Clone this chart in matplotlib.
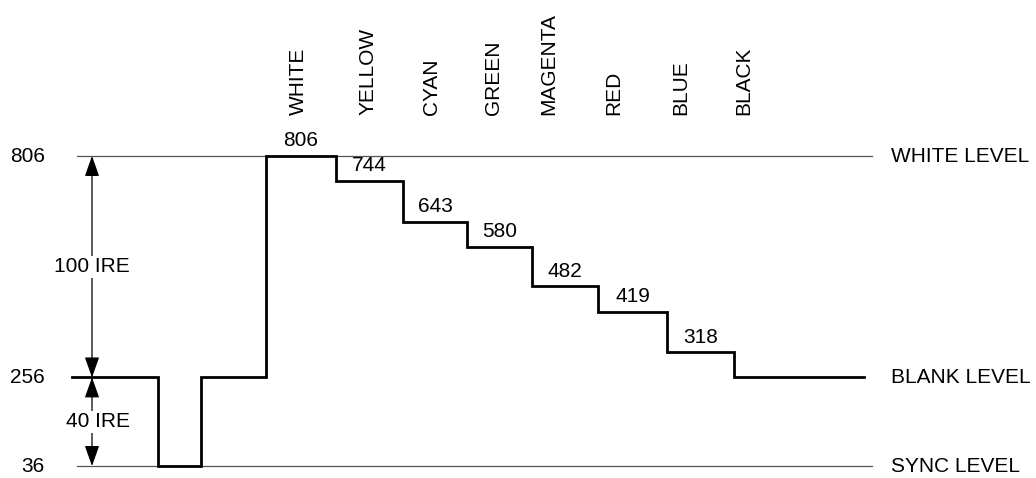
import matplotlib.pyplot as plt

plt.rcParams['font.family'] = ['Liberation Sans', 'DejaVu Sans']

# step edges (time, arbitrary units) and the level held between each pair
edges = [72, 158, 201, 266, 336, 403, 467, 532, 598, 667, 734, 864]
levels = [256, 36, 256, 806, 744, 643, 580, 482, 419, 318, 256]

bar_names = ['WHITE', 'YELLOW', 'CYAN', 'GREEN', 'MAGENTA', 'RED', 'BLUE', 'BLACK']
bar_values = [806, 744, 643, 580, 482, 419, 318]

ref_levels = [806, 256, 36]
ref_names = ['WHITE LEVEL', 'BLANK LEVEL', 'SYNC LEVEL']

fs = 15

fig = plt.figure(figsize=(10.36, 4.78), dpi=100)
ax = fig.add_axes([0, 0, 1, 1])
ax.set_xlim(0, 1036)
# pixel row 156 -> 806, row 466 -> 36
k = 310 / 770
ax.set_ylim(36 - 12 / k, 806 + 156 / k)
ax.axis('off')

# thin reference lines for white and sync
for lv in (806, 36):
    ax.plot([77, 872], [lv, lv], color='#555555', lw=0.9, zorder=1)

# the waveform
xs, ys = [], []
for i, lv in enumerate(levels):
    xs += [edges[i], edges[i + 1]]
    ys += [lv, lv]
ax.plot(xs, ys, color='black', lw=2, solid_joinstyle='miter', zorder=2)

# value labels above each color bar
for i, v in enumerate(bar_values):
    cx = (edges[3 + i] + edges[4 + i]) / 2
    ax.annotate(str(v), (cx, v), xytext=(0, 4), textcoords='offset points',
                ha='center', va='bottom', fontsize=fs)

# rotated color names
name_x = [298, 368, 432, 494, 549, 614, 681, 744]
for nx, name in zip(name_x, bar_names):
    ax.text(nx, 806 + 41 / k, name, rotation=90, ha='center', va='bottom', fontsize=fs)

# left and right level labels
for lv, name in zip(ref_levels, ref_names):
    ax.text(45, lv, str(lv), ha='right', va='center', fontsize=fs)
    ax.text(891, lv, name, ha='left', va='center', fontsize=fs)

# IRE dimension arrows
arrow = dict(arrowstyle='<|-|>,head_length=0.7,head_width=0.25', color='black',
             lw=0.9, mutation_scale=18, shrinkA=0, shrinkB=0)
ax.annotate('', xy=(92, 806), xytext=(92, 256), arrowprops=arrow)
ax.annotate('', xy=(92, 256), xytext=(92, 36), arrowprops=arrow)
box = dict(facecolor='white', edgecolor='none', pad=1)
ax.text(130, 531, '100 IRE', ha='right', va='center', fontsize=fs, bbox=box)
ax.text(130, 146, '40 IRE', ha='right', va='center', fontsize=fs, bbox=box)

fig.savefig('out.png', dpi=100)
